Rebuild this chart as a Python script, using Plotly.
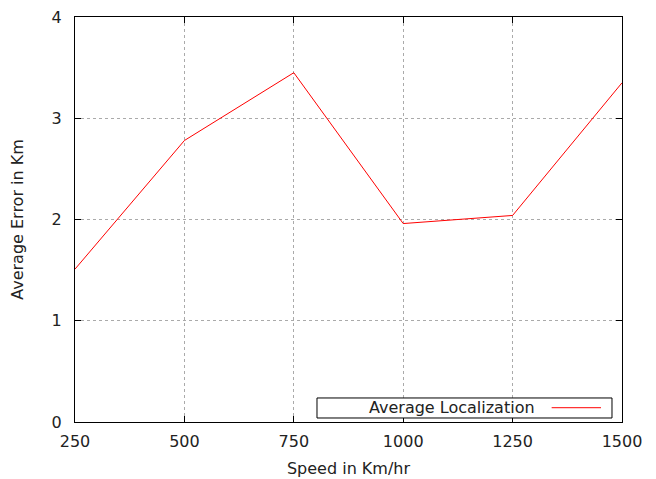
import plotly.graph_objects as go

speeds = [250, 500, 750, 1000, 1250, 1500]
avg_error = [1.51, 2.78, 3.45, 1.96, 2.04, 3.35]
series_name = "Average Localization"

FONT = dict(family="DejaVu Sans", size=16, color="#222222")

fig = go.Figure()

fig.add_trace(
    go.Scatter(
        x=speeds,
        y=avg_error,
        mode="lines",
        name=series_name,
        line=dict(color="#ff0000", width=1),
        showlegend=False,
    )
)

axis_common = dict(
    showline=True,
    linecolor="#000000",
    linewidth=1,
    mirror="ticks",
    ticks="inside",
    ticklen=6,
    tickcolor="#000000",
    showgrid=True,
    gridcolor="#aaaaaa",
    griddash="dot",
    gridwidth=1,
    zeroline=False,
    automargin=False,
    ticklabeloverflow="allow",
    tickfont=FONT,
)

fig.update_xaxes(
    range=[250, 1500],
    tickvals=[250, 500, 750, 1000, 1250, 1500],
    ticklabelstandoff=5,
    title=dict(text="Speed in Km/hr", font=FONT, standoff=12),
    **axis_common,
)
fig.update_yaxes(
    range=[0, 4],
    tickvals=[0, 1, 2, 3, 4],
    ticklabelstandoff=9,
    title=dict(text="Average Error in Km", font=FONT, standoff=24),
    **axis_common,
)

# gnuplot-style key: text first, then the line sample, inside a box
fig.add_shape(type="rect", xref="paper", yref="paper",
              x0=0.4424, x1=0.9817, y0=0.0099, y1=0.0593,
              line=dict(color="#000000", width=1), fillcolor="white", layer="above")
fig.add_annotation(text=series_name, xref="paper", yref="paper",
                   x=0.6886, y=0.0346, xanchor="center", yanchor="middle",
                   showarrow=False, font=FONT)
fig.add_shape(type="line", xref="paper", yref="paper",
              x0=0.8714, x1=0.9616, y0=0.0353, y1=0.0353,
              line=dict(color="#ff0000", width=1), layer="above")

# the page body has an 8px margin, so the figure is 8px smaller
fig.update_layout(
    width=648,
    height=471,
    template="plotly_white",
    plot_bgcolor="white",
    paper_bgcolor="white",
    font=FONT,
    margin=dict(l=67, r=34, t=9, b=57),
)

fig.write_html("out.html")
